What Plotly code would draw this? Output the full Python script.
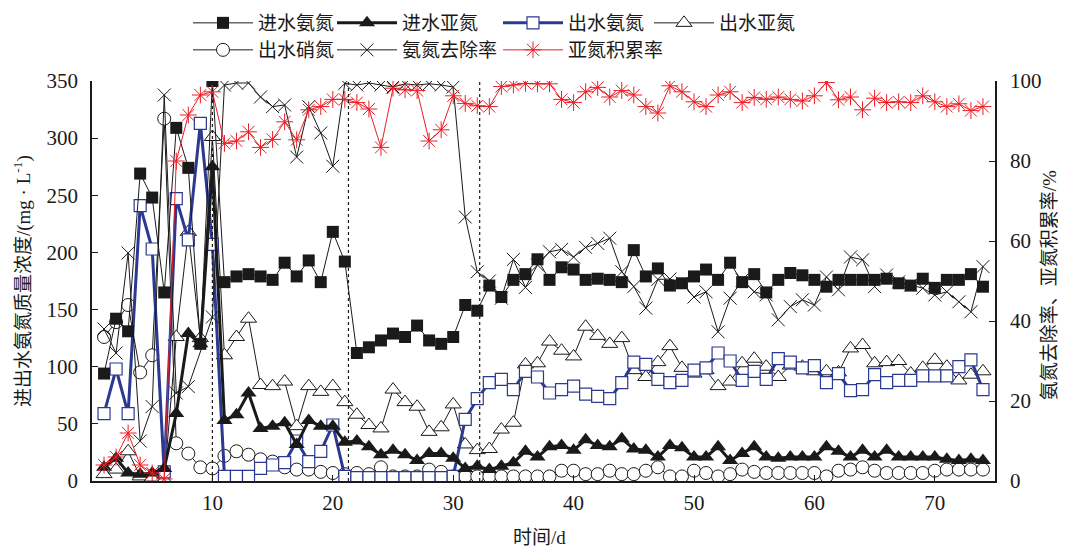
import plotly.graph_objects as go

# ---------------- data ----------------
days = list(range(1, 75))

# 进水氨氮 (mg/L)
inf_nh4 = [94, 142, 131, 269, 248, 165, 309, 274, 120, 350,
           174, 179, 181, 179, 176, 191, 179, 193, 174, 218,
           192, 112, 117, 123, 129, 126, 136, 123, 120, 126,
           154, 149, 171, 161, 176, 181, 194, 176, 187, 185,
           176, 177, 176, 174, 202, 179, 186, 171, 173, 179,
           185, 176, 191, 174, 181, 165, 176, 182, 180, 176,
           170, 176, 176, 176, 176, 177, 173, 171, 177, 169,
           176, 176, 181, 170]

# 进水亚氮 (mg/L)
inf_no2 = [12, 20, 7, 6, 7, 11, 59, 129, 120, 275,
           53, 58, 77, 46, 48, 51, 32, 53, 48, 48,
           34, 35, 30, 23, 27, 23, 18, 24, 24, 20,
           11, 13, 10, 13, 16, 26, 21, 30, 31, 27,
           36, 31, 30, 37, 28, 27, 21, 31, 29, 21,
           21, 30, 18, 24, 30, 21, 20, 21, 21, 21,
           30, 26, 21, 27, 21, 27, 21, 21, 21, 21,
           19, 18, 19, 18]

# 出水氨氮 (mg/L)
eff_nh4 = [59, 98, 59, 241, 203, 8, 247, 211, 313, 207,
           4, 4, 4, 11, 14, 16, 35, 17, 26, 49,
           4, 3, 3, 3, 3, 3, 3, 3, 3, 4,
           54, 72, 86, 89, 80, 96, 91, 77, 80, 83,
           76, 74, 72, 86, 104, 102, 89, 86, 88, 97,
           99, 112, 105, 88, 96, 89, 107, 104, 99, 101,
           86, 94, 79, 80, 93, 86, 88, 88, 92, 92,
           92, 100, 106, 80]

# 出水亚氮 (mg/L)
eff_no2 = [6, 10, 26, 4, 3, 1, 126, 218, 125, 301,
           110, 126, 142, 84, 83, 87, 48, 83, 78, 83,
           69, 58, 49, 46, 80, 69, 65, 43, 47, 67,
           32, 27, 28, 45, 51, 102, 103, 122, 114, 109,
           135, 127, 120, 125, 97, 91, 104, 118, 99, 94,
           97, 83, 87, 103, 107, 100, 91, 101, 100, 96,
           96, 95, 116, 119, 103, 104, 105, 94, 99, 106,
           100, 88, 93, 96]

# 出水硝氮 (mg/L)
eff_no3 = [126, 139, 154, 95, 110, 317, 33, 24, 12, 11,
           22, 26, 23, 19, 17, 12, 10, 10, 8, 7,
           6, 7, 6, 12, 4, 4, 4, 10, 8, 4,
           4, 4, 4, 4, 4, 4, 4, 4, 9, 9,
           6, 6, 9, 6, 6, 9, 12, 4, 4, 9,
           7, 4, 6, 10, 8, 7, 7, 7, 7, 7,
           4, 9, 10, 12, 9, 7, 7, 7, 7, 9,
           10, 10, 10, 10]

# 氨氮去除率 (%)
nh4_removal = [38, 32, 57, 10, 18.6, 96.5, 22, 23.6, None, 41,
               99, 99.5, 99.5, 96, 93.6, 94, 81, 93.6, 87, 78.7,
               99.4, 99, 99.5, 99, 98.5, 99.3, 99, 99.3, 99, 98.5,
               66, 52.3, 50, 45.7, 55.4, 48.4, 54, 57.3, 57.9, 56,
               58.4, 59.4, 60.7, 52.3, 48.6, 43.2, 50.4, 50.5, 49.5, 46,
               47.3, 37.3, 45.7, 50.3, 47.3, 46.5, 40.3, 43.6, 45.3, 44,
               51, 47.8, 56, 55.3, 48.6, 51.5, 49.8, 49, 48.2, 46.5,
               47.3, 44.8, 42.3, 53.6]

# 亚氮积累率 (%)
no2_accum = [4, 6, 12, 4, 2, 0.5, 80, 91.5, 96.5, 97.3,
             84.4, 85, 87.3, 83.4, 85.4, 89.8, 85.3, 92.8, 93.6, 95.4,
             95.4, 94.6, 93, 83.4, 98.2, 97.8, 97.6, 85, 87.8, 96.3,
             94.4, 93.8, 93.6, 98.6, 99, 99.4, 99.3, 99.3, 95.4, 94.6,
             97.3, 98.4, 96, 97.6, 96.5, 93.6, 92, 98.8, 97.3, 94.8,
             93.6, 96.5, 97.3, 94.6, 95.9, 95.4, 96, 95.4, 95, 96.3,
             99.6, 95.3, 96, 92.8, 95.7, 94.6, 94.8, 94.6, 96.3, 94.8,
             93.6, 94.3, 92.6, 93.6]

phase_days = [10, 21.3, 32.2]
x_ticks = [10, 20, 30, 40, 50, 60, 70]

# ---------------- style ----------------
BLACK = "#1a1a1a"
BLUE = "#2b3990"
RED = "#ec1c24"
FONT = "Liberation Serif, Times New Roman, Noto Sans CJK SC, serif"

fig = go.Figure()

fig.add_trace(go.Scatter(
    x=days, y=eff_no3, name="出水硝氮", mode="lines+markers",
    line=dict(color=BLACK, width=1),
    marker=dict(symbol="circle", size=13, color="white", line=dict(color=BLACK, width=1)),
    legend="legend2", legendrank=1, legendwidth=69))
fig.add_trace(go.Scatter(
    x=days, y=eff_no2, name="出水亚氮", mode="lines+markers",
    line=dict(color=BLACK, width=1),
    marker=dict(symbol="triangle-up", size=14, color="white", line=dict(color=BLACK, width=1)),
    legend="legend", legendrank=4, legendwidth=90))
fig.add_trace(go.Scatter(
    x=days, y=eff_nh4, name="出水氨氮", mode="lines+markers",
    line=dict(color=BLUE, width=3),
    marker=dict(symbol="square", size=12, color="white", line=dict(color=BLUE, width=1.2)),
    legend="legend", legendrank=3, legendwidth=76))
fig.add_trace(go.Scatter(
    x=days, y=inf_no2, name="进水亚氮", mode="lines+markers",
    line=dict(color=BLACK, width=3),
    marker=dict(symbol="triangle-up", size=14, color=BLACK),
    legend="legend", legendrank=2, legendwidth=91))
fig.add_trace(go.Scatter(
    x=days, y=inf_nh4, name="进水氨氮", mode="lines+markers",
    line=dict(color=BLACK, width=1),
    marker=dict(symbol="square", size=12, color=BLACK),
    legend="legend", legendrank=1, legendwidth=69))
fig.add_trace(go.Scatter(
    x=days, y=nh4_removal, name="氨氮去除率", mode="lines+markers", connectgaps=True,
    yaxis="y2",
    line=dict(color=BLACK, width=1),
    marker=dict(symbol="x-thin-open", size=13, color=BLACK, line=dict(color=BLACK, width=1)),
    legend="legend2", legendrank=2, legendwidth=91))
fig.add_trace(go.Scatter(
    x=days, y=no2_accum, name="亚氮积累率", mode="lines+markers",
    yaxis="y2",
    line=dict(color=RED, width=1),
    marker=dict(symbol="asterisk-open", size=14, color=RED, line=dict(color=RED, width=1)),
    legend="legend2", legendrank=3, legendwidth=110))

for d in phase_days:
    fig.add_shape(type="line", x0=d, x1=d, y0=0, y1=1, xref="x", yref="paper",
                  line=dict(color=BLACK, width=1.2, dash="dot"))

axis_common = dict(showgrid=False, zeroline=False, showline=True, linecolor=BLACK,
                   linewidth=1.5, ticks="inside", ticklen=6, tickcolor=BLACK,
                   automargin=False,
                   tickfont=dict(family=FONT, size=21, color=BLACK))

# the page body adds an 8 px offset; figure is sized to compensate
FIG_W, FIG_H = 1058, 540
legend_common = dict(orientation="h", xref="container", yref="container",
                     xanchor="left", yanchor="middle",
                     font=dict(family=FONT, size=19, color=BLACK), itemwidth=60,
                     bgcolor="rgba(0,0,0,0)", borderwidth=0)

fig.update_layout(
    template="none",
    width=FIG_W, height=FIG_H,
    margin=dict(l=84, r=71, t=73, b=67, autoexpand=False),
    paper_bgcolor="white", plot_bgcolor="white",
    font=dict(family=FONT, color=BLACK),
    xaxis=dict(range=[0, 75], tickvals=x_ticks, ticklabelstandoff=2, **axis_common),
    yaxis=dict(range=[0, 350], tickvals=[0, 50, 100, 150, 200, 250, 300, 350],
               ticklabelstandoff=8, **axis_common),
    yaxis2=dict(range=[0, 100], tickvals=[0, 20, 40, 60, 80, 100], overlaying="y",
                side="right", ticklabelstandoff=9, **axis_common),
    legend=dict(x=180 / FIG_W, y=1 - 15 / FIG_H, **legend_common),
    legend2=dict(x=180 / FIG_W, y=1 - 42 / FIG_H, **legend_common),
    annotations=[
        dict(text="进出水氨氮质量浓度/(mg · L<sup>-1</sup>)", x=-0.0775, y=0.5,
             xref="paper", yref="paper", textangle=-90, showarrow=False,
             xanchor="center", yanchor="middle",
             font=dict(family=FONT, size=19, color=BLACK)),
        dict(text="氨氮去除率、亚氮积累率/%", x=1.060, y=0.49,
             xref="paper", yref="paper", textangle=-90, showarrow=False,
             xanchor="center", yanchor="middle",
             font=dict(family=FONT, size=19, color=BLACK)),
        dict(text="时间/d", x=0.496, y=-0.14, xref="paper", yref="paper",
             showarrow=False, xanchor="center", yanchor="middle",
             font=dict(family=FONT, size=19, color=BLACK)),
    ],
)

fig.write_html("out.html")
